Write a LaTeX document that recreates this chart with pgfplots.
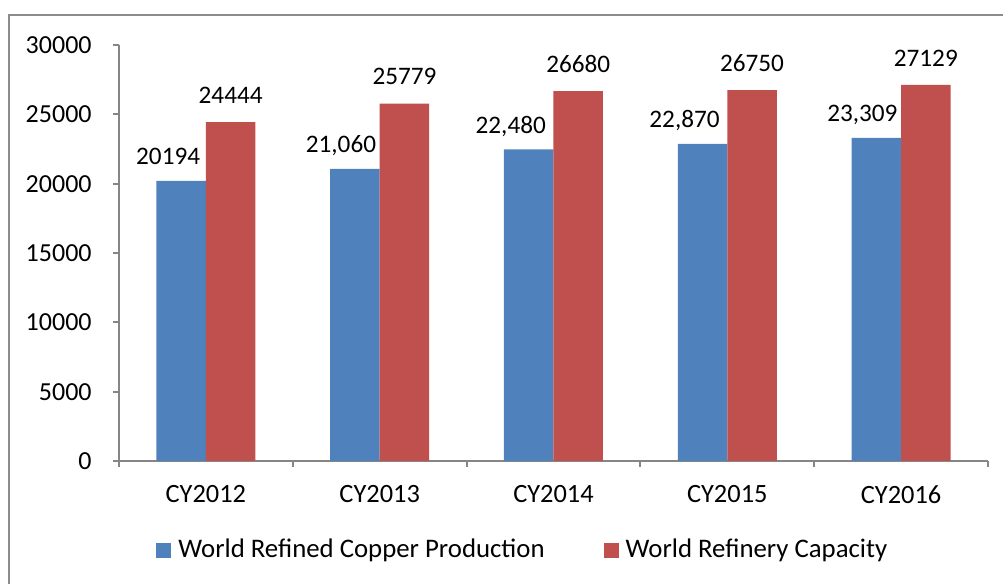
\documentclass[border=0pt]{standalone}
\usepackage{fontspec}
\setmainfont{Carlito}
\usepackage{pgfplots}
\usepackage{pgfplotstable}
\pgfplotsset{compat=1.18}
\definecolor{cblue}{HTML}{4F81BD}
\definecolor{cred}{HTML}{C0504D}
\definecolor{axgray}{HTML}{868686}
\definecolor{frgray}{HTML}{8C8C8C}
\pgfplotstableread{
x y lab dx
0 20194 20194 -6.5
1 21060 21,060 -7
2 22480 22,480 -9
3 22870 22,870 -9
4 23309 23,309 -7
}\prodtab
\pgfplotstableread{
x y lab dx
0 24444 24444 0
1 25779 25779 0
2 26680 26680 0
3 26750 26750 0
4 27129 27129 0
}\captab
\begin{document}
\fontsize{12.6}{15}\selectfont
\begin{tikzpicture}
\path[use as bounding box] (0,0) rectangle (501.5pt,292pt);
\draw[frgray, line width=1pt] (4.5pt,-5pt) -- (4.5pt,284.5pt) -- (510pt,284.5pt);
\begin{axis}[
  at={(59.5pt,61.5pt)}, anchor=south west,
  scale only axis, width=434.5pt, height=208pt,
  /pgf/number format/assume math mode=true,
  ybar=0pt, bar width=24.75pt,
  xmin=-0.5, xmax=4.5, ymin=0, ymax=30000,
  axis x line*=bottom, axis y line*=left,
  axis line style={axgray, line width=1pt},
  tick style={axgray, line width=1pt},
  tick align=outside,
  major tick length=3pt,
  ytick={0,5000,...,30000},
  scaled y ticks=false,
  yticklabel style={/pgf/number format/set thousands separator={}, inner sep=0pt, xshift=-10.5pt, font=\fontsize{13}{15}\selectfont},
  xtick={-0.5,0.5,...,4.5},
  xticklabels={},
  extra x ticks={0,1,2,3,4},
  extra x tick labels={CY2012,CY2013,CY2014,CY2015,CY2016},
  extra x tick style={major tick length=0pt, xticklabel style={inner sep=0pt, yshift=-12pt, font=\fontsize{13.2}{15}\selectfont}},
  point meta=explicit symbolic,
  nodes near coords,
  visualization depends on={\thisrow{dx} \as \dx},
  legend columns=2,
  legend style={at={(0.0426,-0.215)}, anchor=west, draw=none, fill=none, inner sep=0pt,
    font=\fontsize{13.4}{15}\selectfont,
    nodes={inner sep=0pt, anchor=west},
    /tikz/every odd column/.append style={column sep=3.5pt},
    /tikz/every even column/.append style={column sep=29.5pt}},
  legend image code/.code={\fill[#1,draw=none] (0pt,-3.75pt) rectangle (7.5pt,3.75pt);},
]
\addplot[fill=cblue, draw=none,
  every node near coord/.append style={anchor=base, inner sep=0pt, yshift=8pt, xshift=\dx pt, text=black}]
  table[x=x, y=y, meta=lab] {\prodtab};
\addplot[fill=cred, draw=none,
  every node near coord/.append style={anchor=base, inner sep=0pt, yshift=9.3pt, text=black}]
  table[x=x, y=y, meta=lab] {\captab};
\legend{World Refined Copper Production, World Refinery Capacity}
\end{axis}
\end{tikzpicture}
\end{document}
